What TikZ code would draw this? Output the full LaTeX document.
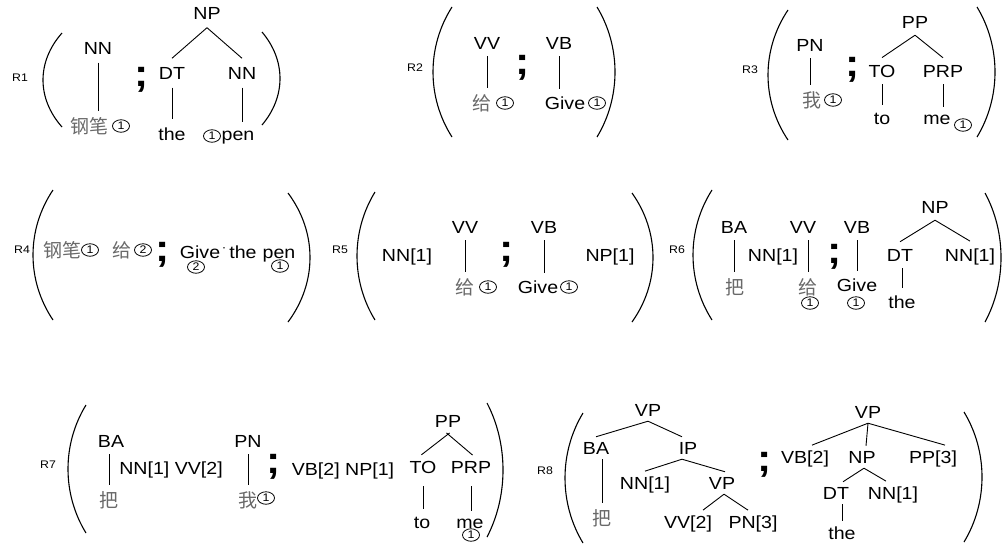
\documentclass[tikz,border=0pt]{standalone}
\usepackage{fontspec}
\setmainfont{Liberation Sans}[FakeStretch=1.12]
\newfontfamily\cjk{Noto Sans CJK SC}
\usetikzlibrary{shapes.geometric}
\definecolor{cjkgray}{RGB}{105,105,105}
\newcommand\drawparen[4]{%
  \pgfmathsetmacro\pcx{#1+4/3*(#4-#1)}%
  \pgfmathsetmacro\pya{#2+0.305*(#3-#2)}%
  \pgfmathsetmacro\pyb{#3-0.305*(#3-#2)}%
  \draw[parenline] (#1,#2) .. controls (\pcx,\pya) and (\pcx,\pyb) .. (#1,#3);}
\tikzset{
  lab/.style={anchor=base, inner xsep=0pt, inner ysep=7pt, font=\fontsize{17.5}{20}\selectfont},
  zh/.style={anchor=base, inner xsep=0pt, inner ysep=6pt, text=cjkgray, font=\cjk\fontsize{19}{20}\selectfont},
  cn/.style={ellipse, draw, line width=0.8pt, inner sep=0pt, minimum width=17pt, minimum height=12.5pt, font=\fontsize{11}{11}\selectfont},
  rl/.style={inner sep=0pt, font=\fontsize{11}{12}\selectfont},
  semi/.style={inner sep=0pt, font=\fontsize{38}{38}\selectfont\bfseries},
  br/.style={line width=0.9pt},
  parenline/.style={line width=1.1pt},
}
\begin{document}
\begin{tikzpicture}[x=1pt,y=-1pt]
\useasboundingbox (0,0) rectangle (1003,544);

% ---------------- R1 ----------------
\begin{scope}[lab/.append style={inner ysep=8.5pt}]
\node[rl] (r1) at (20,78) {R1};
\drawparen{62}{33}{127}{43}
\node[lab] (r1nn) at (98,54) {NN};
\node[zh] (r1gb) at (89,133) {钢笔};
\node[cn] (r1c) at (121,126) {1};
\node[semi] (r1s) at (142,80) {;};
\node[lab] (r1np) at (207,19) {NP};
\node[lab] (r1dt) at (172,79) {DT};
\node[lab] (r1nn2) at (242,79) {NN};
\node[lab] (r1the) at (172,140) {the};
\node[lab] (r1pen) at (238,140) {pen};
\node[cn] (r1c2) at (212,136) {1};
\drawparen{262}{32}{125}{280}
\draw[br] (r1nn.south) -- (r1nn.south |- r1gb.north);
\draw[br] (r1np.south) -- (r1dt.north);
\draw[br] (r1np.south) -- (r1nn2.north);
\draw[br] (r1dt.south) -- (r1dt.south |- r1the.north);
\draw[br] (r1nn2.south) -- (r1nn2.south |- r1pen.north);
\end{scope}

% ---------------- R2 ----------------
\node[rl] (r2) at (415,68) {R2};
\drawparen{452}{7}{137}{433}
\node[lab] (r2vv) at (487,49) {VV};
\node[zh] (r2g) at (482,110) {给};
\node[cn] (r2c) at (505,103) {1};
\node[semi] (r2s) at (523,68) {;};
\node[lab] (r2vb) at (559,49) {VB};
\node[lab] (r2give) at (565,109) {Give};
\node[cn] (r2c2) at (597,103) {1};
\drawparen{597}{7}{137}{615}
\draw[br] (r2vv.south) -- (r2vv.south |- r2g.north);
\draw[br] (r2vb.south) -- (r2vb.south |- r2give.north);

% ---------------- R3 ----------------
\node[rl] (r3) at (750,70) {R3};
\drawparen{788}{10}{140}{768}
\node[lab] (r3pn) at (810,51) {PN};
\node[zh] (r3w) at (812,107) {我};
\node[cn] (r3c) at (833,100) {1};
\node[semi] (r3s) at (853,70) {;};
\node[lab] (r3pp) at (915,28) {PP};
\node[lab] (r3to) at (882,77) {TO};
\node[lab] (r3prp) at (943,77) {PRP};
\node[lab] (r3tow) at (882,124) {to};
\node[lab] (r3me) at (937,124) {me};
\node[cn] (r3c2) at (963,125) {1};
\drawparen{977}{7}{137}{995}
\draw[br] (r3pn.south) -- (r3pn.south |- r3w.north);
\draw[br] (r3pp.south) -- (r3to.north);
\draw[br] (r3pp.south) -- (r3prp.north);
\draw[br] (r3to.south) -- (r3to.south |- r3tow.north);
\draw[br] (r3prp.south) -- (r3prp.south |- r3me.north);

% ---------------- R4 ----------------
\node[rl] (r4) at (22,250) {R4};
\drawparen{53}{190}{320}{33}
\node[zh] (r4gb) at (62,257) {钢笔};
\node[cn] (r4c1) at (90,250) {1};
\node[zh] (r4g) at (122,257) {给};
\node[cn] (r4c2) at (143,250) {2};
\node[semi] (r4s) at (163,255) {;};
\node[lab] (r4give) at (200,258) {Give};
\node[cn] (r4c3) at (196,267) {2};
\node[inner sep=0pt, font=\fontsize{12}{12}\selectfont] (r4dot) at (224,250) {·};
\node[lab] (r4the) at (243,258) {the};
\node[lab] (r4pen) at (279,258) {pen};
\node[cn] (r4c4) at (280,266) {1};
\drawparen{288}{193}{322}{310}

% ---------------- R5 ----------------
\node[rl] (r5) at (340,250) {R5};
\drawparen{375}{192}{320}{357}
\node[lab] (r5nn) at (407,261) {NN[1]};
\node[lab] (r5vv) at (465,233) {VV};
\node[zh] (r5g) at (465,294) {给};
\node[cn] (r5c) at (488,287) {1};
\node[semi] (r5s) at (507,255) {;};
\node[lab] (r5vb) at (544,233) {VB};
\node[lab] (r5give) at (538,293) {Give};
\node[cn] (r5c2) at (569,287) {1};
\node[lab] (r5np) at (610,261) {NP[1]};
\drawparen{632}{193}{322}{653}
\draw[br] (r5vv.south) -- (r5vv.south |- r5g.north);
\draw[br] (r5vb.south) -- (r5vb.south |- r5give.north);

% ---------------- R6 ----------------
\node[rl] (r6) at (677,250) {R6};
\drawparen{712}{190}{320}{693}
\node[lab] (r6ba) at (734,233) {BA};
\node[lab] (r6nn) at (773,261) {NN[1]};
\node[lab] (r6vv) at (803,233) {VV};
\node[zh] (r6b) at (735,294) {把};
\node[zh] (r6g) at (808,294) {给};
\node[cn] (r6c) at (810,303) {1};
\node[semi] (r6s) at (835,257) {;};
\node[lab] (r6vb) at (857,233) {VB};
\node[lab] (r6give) at (857,291) {Give};
\node[cn] (r6c2) at (856,303) {1};
\node[lab] (r6np) at (935,213) {NP};
\node[lab] (r6dt) at (900,261) {DT};
\node[lab] (r6nn2) at (970,261) {NN[1]};
\node[lab] (r6the) at (902,308) {the};
\drawparen{985}{193}{322}{1001}
\draw[br] (r6ba.south) -- (r6ba.south |- r6b.north);
\draw[br] (r6g.north |- r6vv.south) -- (r6g.north);
\draw[br] (r6vb.south) -- (r6vb.south |- r6give.north);
\draw[br] (r6np.south) -- (r6dt.north);
\draw[br] (r6np.south) -- (r6nn2.north);
\draw[br] (r6the.north |- r6dt.south) -- (r6the.north);

% ---------------- R7 ----------------
\node[rl] (r7) at (48,465) {R7};
\drawparen{86}{405}{533}{68}
\node[lab] (r7ba) at (111,447) {BA};
\node[lab] (r7nv) at (171,474) {NN[1] VV[2]};
\node[lab] (r7pn) at (248,447) {PN};
\node[zh] (r7b) at (109,507) {把};
\node[zh] (r7w) at (248,507) {我};
\node[cn] (r7c) at (266,498) {1};
\node[semi] (r7s) at (274,467) {;};
\node[lab] (r7vn) at (343,475) {VB[2] NP[1]};
\node[lab] (r7pp) at (448,427) {PP};
\node[lab] (r7to) at (423,473) {TO};
\node[lab] (r7prp) at (471,473) {PRP};
\node[lab] (r7tow) at (422,528) {to};
\node[lab] (r7me) at (470,528) {me};
\node[cn] (r7c2) at (471,535) {1};
\drawparen{487}{403}{537}{503}
\draw[br] (r7b.north |- r7ba.south) -- (r7b.north);
\draw[br] (r7pn.south) -- (r7pn.south |- r7w.north);
\draw[br, shorten <=-2pt, shorten >=-2pt] (r7pp.south) -- (r7to.north);
\draw[br, shorten <=-2pt, shorten >=-2pt] (r7pp.south) -- (r7prp.north);
\draw[br, shorten <=6pt] (r7to.south) -- (r7to.south |- r7tow.north);
\draw[br, shorten <=6pt] (r7prp.south) -- (r7prp.south |- r7me.north);

% ---------------- R8 ----------------
\begin{scope}[lab/.append style={inner ysep=5pt}]
\node[rl] (r8) at (545,471) {R8};
\drawparen{583}{413}{543}{565}
\node[lab] (r8vp) at (648,416) {VP};
\node[lab] (r8ba) at (596,454) {BA};
\node[lab] (r8ip) at (688,454) {IP};
\node[zh] (r8b) at (602,525) {把};
\node[lab] (r8nn) at (645,489) {NN[1]};
\node[lab] (r8vp2) at (722,489) {VP};
\node[lab] (r8vv) at (688,528) {VV[2]};
\node[lab] (r8pn) at (753,528) {PN[3]};
\node[semi] (r8s) at (765,465) {;};
\node[lab] (r8vp3) at (868,418) {VP};
\node[lab] (r8vb) at (805,463) {VB[2]};
\node[lab] (r8np) at (862,463) {NP};
\node[lab] (r8pp) at (933,463) {PP[3]};
\node[lab] (r8dt) at (836,499) {DT};
\node[lab] (r8nn2) at (893,499) {NN[1]};
\node[lab] (r8the) at (842,539) {the};
\drawparen{964}{412}{542}{982}
\draw[br] (r8vp.south) -- (r8ba.north);
\draw[br] (r8vp.south) -- ([xshift=-6pt]r8ip.north);
\draw[br] (r8b.north |- r8ba.south) -- (r8b.north);
\draw[br] ([xshift=-6pt]r8ip.south) -- (r8nn.north);
\draw[br] ([xshift=-6pt]r8ip.south) -- ([xshift=3pt]r8vp2.north);
\draw[br] ([xshift=2pt]r8vp2.south) -- ([xshift=15pt]r8vv.north);
\draw[br] ([xshift=2pt]r8vp2.south) -- ([xshift=-5pt]r8pn.north);
\draw[br] (r8vp3.south) -- ([xshift=7pt]r8vb.north);
\draw[br] (r8vp3.south) -- ([xshift=4pt]r8np.north);
\draw[br] (r8vp3.south) -- ([xshift=12pt]r8pp.north);
\draw[br] ([xshift=2pt]r8np.south) -- ([xshift=7pt]r8dt.north);
\draw[br] ([xshift=2pt]r8np.south) -- ([xshift=-7pt]r8nn2.north);
\draw[br] (r8the.north |- r8dt.south) -- (r8the.north);
\end{scope}
\end{tikzpicture}
\end{document}
